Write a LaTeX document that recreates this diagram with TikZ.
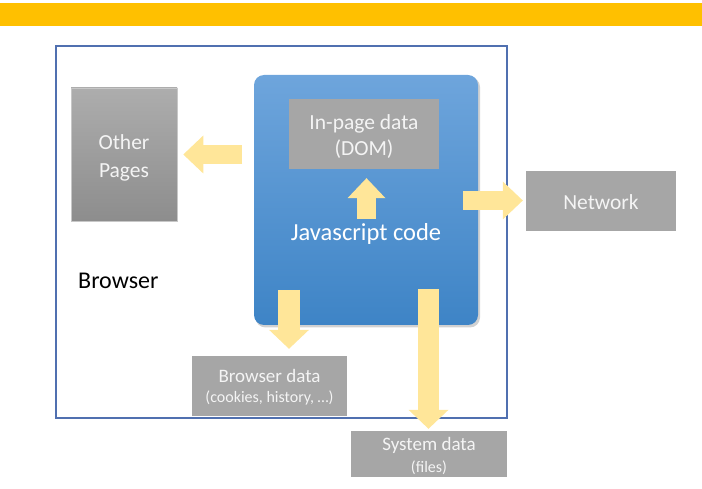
\documentclass[tikz,border=0pt]{standalone}
\usepackage{fontspec}
\setmainfont{Carlito}
\usetikzlibrary{arrows.meta,calc}
\definecolor{barcol}{HTML}{FFC000}
\definecolor{framecol}{HTML}{5070B0}
\definecolor{boxgray}{HTML}{A6A6A6}
\definecolor{optop}{HTML}{ADADAD}
\definecolor{opbot}{HTML}{8D8D8D}
\definecolor{jstop}{HTML}{6EA5DC}
\definecolor{jsbot}{HTML}{3E84C6}
\definecolor{arrcol}{HTML}{FFE699}
\definecolor{txtw}{HTML}{F4F4F4}
\tikzset{
  graybox/.style={rectangle, fill=boxgray, inner sep=0pt},
  boxtext/.style={inner sep=0pt, align=center, text=txtw},
  fatarrow/.style={draw=arrcol, line cap=butt, line width=#1},
  tipA/.style={-{Triangle[width=38pt,length=20pt,line width=0pt]}},
  tipB/.style={-{Triangle[width=40pt,length=19pt,line width=0pt]}},
}
\newcommand{\fsz}[2]{\fontsize{#1}{#2}\selectfont}
\begin{document}
\begin{tikzpicture}[x=1pt,y=-1pt]
\useasboundingbox (0,0) rectangle (702,489);
% top bar
\fill[barcol] (0,3) rectangle (702,26);
% browser frame
\node[draw=framecol, line width=1.3pt, minimum width=451pt, minimum height=372pt, inner sep=0pt] (frame) at (281.5,232) {};
\node[anchor=west, text=black, inner sep=0pt, font=\fsz{24}{28}] (browser) at (78,281) {Browser};
% JS box shadow and box
\fill[black!18, rounded corners=10pt] (255.5,77) rectangle (480,327.5);
\node[rectangle, rounded corners=10pt, top color=jstop, bottom color=jsbot, minimum width=224pt, minimum height=250pt, inner sep=0pt] (js) at (366,200) {};
% other pages
\node[rectangle, top color=optop, bottom color=opbot, draw=black!22, line width=0.6pt, minimum width=106pt, minimum height=133pt, inner sep=0pt] (other) at (124,154.5) {};
\node[boxtext, font=\fsz{21.5}{28}] (othertxt) at ($(other.center)+(0,3.5)$) {Other\\Pages};
% in-page data
\node[graybox, minimum width=150pt, minimum height=70pt] (dom) at (364,134) {};
\node[boxtext, font=\fsz{21.5}{26}] (domtxt) at ($(dom.center)+(0,3)$) {In-page data\\(DOM)};
% javascript label
\node[text=white, inner sep=0pt, font=\fsz{24.5}{29}] (jslabel) at (366,234) {Javascript code};
% network
\node[graybox, minimum width=150pt, minimum height=60pt] (net) at (601,201) {};
\node[boxtext, font=\fsz{21.5}{26}] (nettxt) at ($(net.center)+(0,1)$) {Network};
% browser data
\node[graybox, minimum width=155pt, minimum height=60pt] (bdata) at (269.5,386) {};
\node[boxtext, font=\fsz{19}{20}] (bdatatxt) at ($(bdata.center)+(0,1.5)$) {Browser data\\{\fsz{16}{20}(cookies, history, \dots)}};
% system data
\node[graybox, minimum width=156pt, minimum height=46pt] (sdata) at (429,454) {};
\node[boxtext, font=\fsz{19}{22}] (sdatatxt) at ($(sdata.center)+(0,2.5)$) {System data\\{\fsz{16}{22}(files)}};
% arrows
\draw[fatarrow=19pt, tipA] ($(other.east)+(65,0)$) -- ($(other.east)+(6,0)$);
\draw[fatarrow=19pt, tipA] ($(dom.south)+(2.5,50)$) -- ($(dom.south)+(2.5,9)$);
\draw[fatarrow=19pt, tipA] ($(net.west)+(-63,-0.5)$) -- ($(net.west)+(-3,-0.5)$);
\draw[fatarrow=22pt, tipB] ($(bdata.north)+(19.5,-66)$) -- ($(bdata.north)+(19.5,-7)$);
\draw[fatarrow=21pt, tipB] ($(sdata.north)+(-0.5,-142)$) -- ($(sdata.north)+(-0.5,-2)$);
\end{tikzpicture}
\end{document}
